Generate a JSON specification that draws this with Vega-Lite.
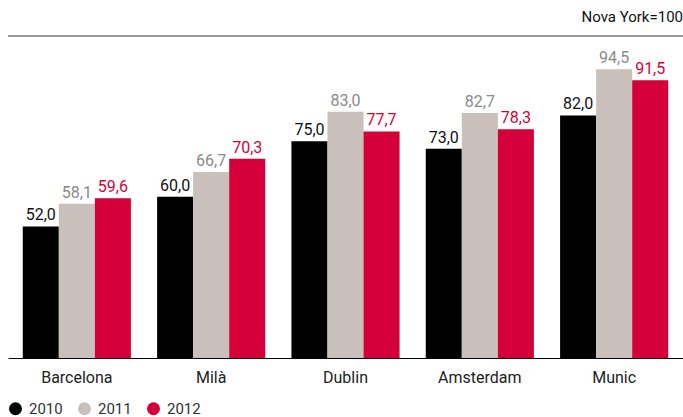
{
  "$schema": "https://vega.github.io/schema/vega-lite/v6.json",
  "width": 675,
  "height": 322,
  "autosize": "none",
  "padding": {"left": 8, "top": 36, "right": 0, "bottom": 59},
  "config": {
    "locale": {"number": {"decimal": ",", "thousands": ".", "grouping": [3], "currency": ["", " €"]}},
    "view": {"stroke": null},
    "font": "Roboto"
  },
  "title": {"text": "Nova York=100", "anchor": "end", "frame": "group", "orient": "top", "offset": 10, "fontSize": 15, "fontWeight": "normal", "color": "#111", "font": "Roboto"},
  "data": {"values": [
    {"city": "Barcelona", "year": "2010", "value": 52.0},
    {"city": "Barcelona", "year": "2011", "value": 58.1},
    {"city": "Barcelona", "year": "2012", "value": 59.6},
    {"city": "Milà", "year": "2010", "value": 60.0},
    {"city": "Milà", "year": "2011", "value": 66.7},
    {"city": "Milà", "year": "2012", "value": 70.3},
    {"city": "Dublin", "year": "2010", "value": 75.0},
    {"city": "Dublin", "year": "2011", "value": 83.0},
    {"city": "Dublin", "year": "2012", "value": 77.7},
    {"city": "Amsterdam", "year": "2010", "value": 73.0},
    {"city": "Amsterdam", "year": "2011", "value": 82.7},
    {"city": "Amsterdam", "year": "2012", "value": 78.3},
    {"city": "Munic", "year": "2010", "value": 82.0},
    {"city": "Munic", "year": "2011", "value": 94.5},
    {"city": "Munic", "year": "2012", "value": 91.5}
  ]},
  "layer": [
    {
      "mark": {"type": "bar", "clip": true},
      "encoding": {
        "x": {"field": "city", "type": "nominal", "sort": ["Barcelona", "Milà", "Dublin", "Amsterdam", "Munic"],
          "scale": {"paddingInner": 0.195, "paddingOuter": 0.11},
          "axis": {"title": null, "labelAngle": 0, "ticks": false, "domainColor": "#000", "domainWidth": 1, "labelFontSize": 16, "labelColor": "#222", "labelPadding": 11, "labelFont": "Roboto"}},
        "xOffset": {"field": "year", "type": "nominal"},
        "y": {"field": "value", "type": "quantitative", "scale": {"domain": [16.4, 103.5], "zero": false, "nice": false}, "axis": null},
        "color": {"field": "year", "type": "nominal",
          "scale": {"domain": ["2010", "2011", "2012"], "range": ["#000000", "#c9c0bb", "#d5003a"]},
          "legend": {"title": null, "orient": "none", "legendX": 0, "legendY": 365, "direction": "horizontal", "symbolType": "circle", "symbolSize": 170, "symbolStrokeWidth": 0, "labelFontSize": 15, "labelColor": "#333", "labelFont": "Roboto", "labelOffset": 6, "columnPadding": 14}}
      }
    },
    {
      "mark": {"type": "text", "baseline": "bottom", "dy": -3, "fontSize": 16, "font": "Roboto"},
      "encoding": {
        "x": {"field": "city", "type": "nominal", "sort": ["Barcelona", "Milà", "Dublin", "Amsterdam", "Munic"]},
        "xOffset": {"field": "year", "type": "nominal"},
        "y": {"field": "value", "type": "quantitative"},
        "text": {"field": "value", "type": "quantitative", "format": ".1f"},
        "color": {"field": "year", "type": "nominal",
          "scale": {"domain": ["2010", "2011", "2012"], "range": ["#111111", "#8a8a8a", "#d5003a"]},
          "legend": null}
      }
    },
    {
      "mark": {"type": "rule", "color": "#9a9a9a", "strokeWidth": 2},
      "encoding": {"y": {"datum": 103.5}}
    }
  ],
  "resolve": {"scale": {"color": "independent"}}
}
